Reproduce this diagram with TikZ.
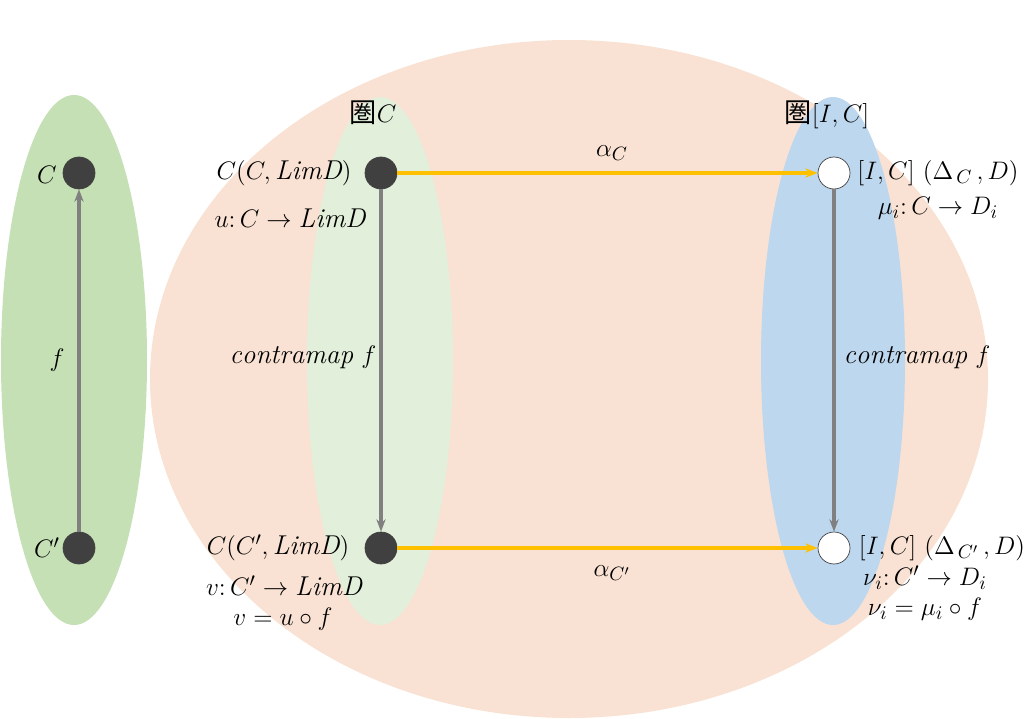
\documentclass[tikz,border=0pt]{standalone}
\usepackage{fontspec}
\newfontfamily\cjk{Noto Sans CJK JP}
\usetikzlibrary{arrows.meta}
\definecolor{peach}{RGB}{249,226,211}
\definecolor{leafgreen}{RGB}{197,224,180}
\definecolor{palegreen}{RGB}{226,239,218}
\definecolor{skyblue}{RGB}{189,215,238}
\definecolor{amber}{RGB}{255,192,0}
\definecolor{dotgray}{RGB}{64,64,64}
\tikzset{
    obj/.style={circle, minimum size=0.64cm, inner sep=0pt, fill=dotgray, draw=dotgray},
    hollow/.style={circle, minimum size=0.64cm, inner sep=0pt, fill=white, draw=dotgray},
    morph/.style={-{Stealth[length=7pt]}, line width=1.8pt, gray},
    nat/.style={-{Stealth[length=7pt]}, line width=1.8pt, amber},
    lbl/.style={font=\fontsize{15.5}{18}\selectfont, inner sep=1pt}
}
\begin{document}
\begin{tikzpicture}[x=0.02cm, y=-0.02cm]
            \useasboundingbox (0, 0) rectangle (1024, 719);
            % blobs
            \fill[peach]     (569, 379) ellipse (419 and 339);
            \fill[leafgreen] (74, 360) ellipse (73 and 265);
            \fill[palegreen] (380, 361) ellipse (73 and 264);
            \fill[skyblue]   (833, 361) ellipse (72 and 264);

            % objects
            \node[obj] (c)   at (79, 173) {};  \node[obj] (cp)  at (79, 548) {};
            \node[obj] (hc)  at (381, 173) {}; \node[obj] (hcp) at (381, 548) {};
            \node[hollow] (nc)  at (834, 173) {}; \node[hollow] (ncp) at (834, 548) {};

            % arrows
            \draw[morph] (cp) -- (c);
            \draw[morph] (hc) -- (hcp);
            \draw[morph] (nc) -- (ncp);
            \draw[nat] (hc) -- (nc);
            \draw[nat] (hcp) -- (ncp);

            % labels
            \node[lbl] (tc)  at (47, 175) {$C$};
            \node[lbl] (tcp) at (47, 548) {$C'$};
            \node[lbl] (tf)  at (57, 360) {$f$};
            \node[lbl] (cat) at (373, 113) {{\cjk 圏}$C$};
            \node[lbl] (fun) at (827, 115) {{\cjk 圏}$[I,C]$};
            \node[lbl] (hom)  at (284, 173) {$C(C, \mathit{LimD})$};
            \node[lbl] (homu) at (290, 218) {$u\colon C \to \mathit{LimD}$};
            \node[lbl] (cm)   at (303, 357) {$\mathit{contramap}\ f$};
            \node[lbl] (homp) at (278, 548) {$C(C', \mathit{LimD})$};
            \node[lbl] (homv) at (284, 586) {$v\colon C' \to \mathit{LimD}$};
            \node[lbl] (veq)  at (283, 619) {$v = u \circ f$};
            \node[lbl] (ac)   at (612, 153) {$\alpha_C$};
            \node[lbl] (acp)  at (612, 573) {$\alpha_{C'}$};
            \node[lbl] (nat)  at (938, 173) {$[I, C]\ (\Delta_{\,C}\,, D)$};
            \node[lbl] (mu)   at (938, 208) {$\mu_i\colon C \to D_i$};
            \node[lbl] (cm2)  at (917, 357) {$\mathit{contramap}\ f$};
            \node[lbl] (natp) at (942, 548) {$[I, C]\ (\Delta_{\,C'}\,, D)$};
            \node[lbl] (nu)   at (925, 578) {$\nu_i\colon C' \to D_i$};
            \node[lbl] (nueq) at (925, 609) {$\nu_i = \mu_i \circ f$};
        \end{tikzpicture}
\end{document}
